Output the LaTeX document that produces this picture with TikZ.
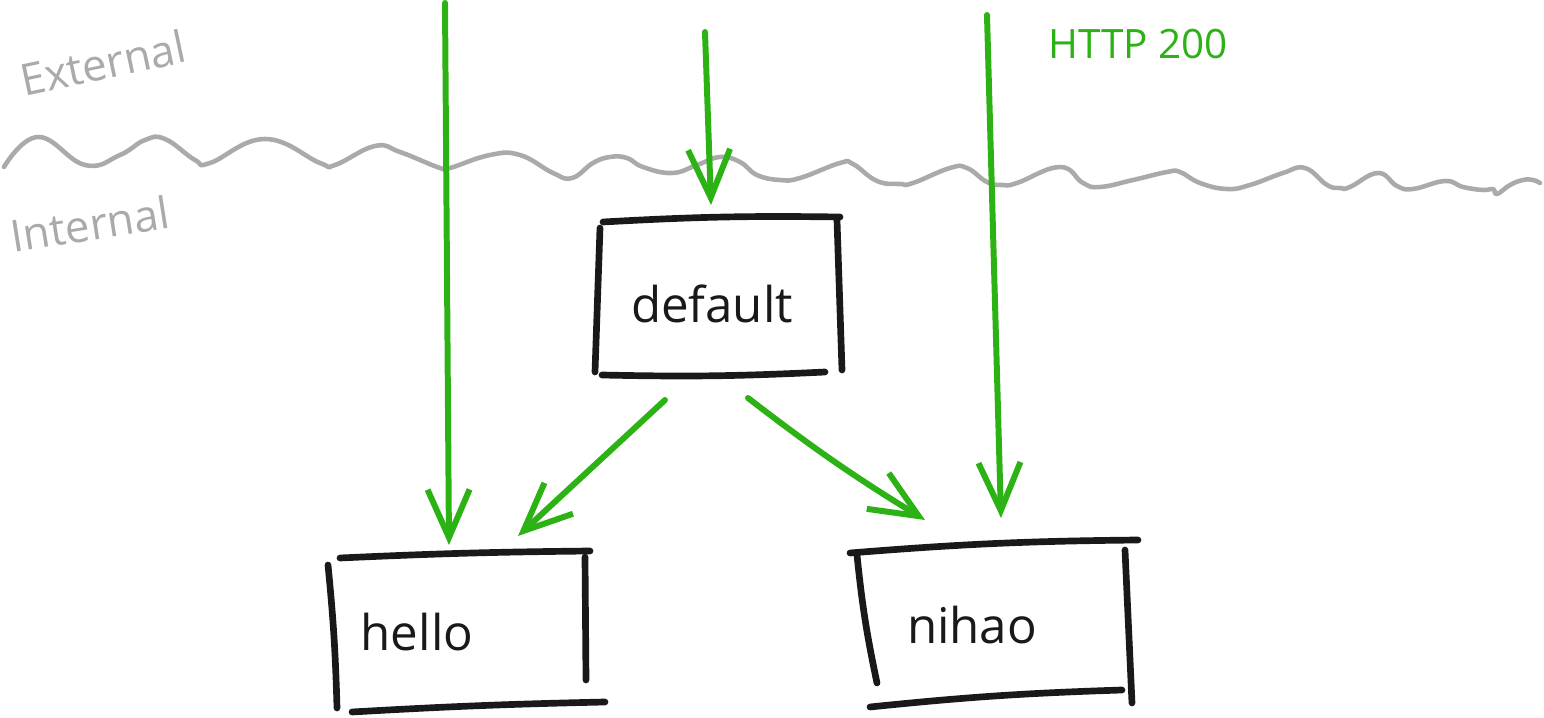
\documentclass[tikz,border=0pt]{standalone}
\usepackage{fontspec}
\setmainfont{Open Sans}
\usetikzlibrary{arrows.meta}
\definecolor{sketchgreen}{RGB}{44,178,20}
\definecolor{sketchgray}{RGB}{170,170,170}
\definecolor{ink}{RGB}{25,25,25}
\begin{document}
\begin{tikzpicture}[x=0.01cm,y=-0.01cm,
  wave/.style={draw=sketchgray,line width=1.3pt,line cap=round,line join=round},
  flow/.style={draw=sketchgreen,line width=1.7pt,line cap=round,
    -{Straight Barb[length=4.8mm,width=4.2mm,line width=1.7pt]}},
  stroke/.style={draw=ink,line width=1.9pt,line cap=round},
  zone/.style={text=sketchgray,font=\fontsize{12.5}{14}\selectfont},
  boxtext/.style={text=ink,font=\fontsize{14}{16}\selectfont,anchor=base},
  status/.style={text=sketchgreen,font=\fontsize{11.5}{14}\selectfont,anchor=base west},
]
\useasboundingbox (0,0) rectangle (1544,718);

% boundary wave
\draw[wave] plot[smooth,tension=0.75] coordinates {
 (4,167) (38,137) (85,165) (120,155) (145,140) (165,139) (195,160)
 (210,163) (265,139) (320,163) (335,165) (375,146) (400,152)
 (440,168) (450,168) (490,155) (520,155) (553,173) (572,178)
 (593,163) (610,157) (627,158) (643,167) (672,173)
 (697,165) (720,157) (740,162) (757,175) (780,180) (800,178)
 (840,163) (853,164) (877,181) (900,184) (913,183) (950,168) (967,168)
 (987,182) (1003,185) (1017,183) (1060,167) (1083,183) (1100,187)
 (1133,180) (1167,172) (1180,172) (1200,183) (1227,189) (1250,185) (1283,173)
 (1305,168) (1327,185) (1340,188) (1350,187) (1378,173)
 (1397,186) (1413,189) (1445,181) (1463,187) (1483,190) (1493,189)
 (1497,194) (1510,185) (1523,180) (1533,180) (1540,183)};

% zone labels
\node[zone,rotate=12] (external) at (103,63) {External};
\node[zone,rotate=9] (internal) at (90,224) {Internal};
\node[status] (http) at (1036,58) {HTTP 200};

% boxes (sketched strokes)
\draw[stroke] (603,222) to[bend left=2] (840,217);
\draw[stroke] (600,228) -- (595,372);
\draw[stroke] (837,220) -- (842,370);
\draw[stroke] (602,375) to[bend right=2] (825,372);
\node[boxtext] (default) at (712,322) {default};

\draw[stroke] (340,558) to[bend left=1] (590,551);
\draw[stroke] (328,565) to[bend left=2] (337,708);
\draw[stroke] (585,557) -- (586,680);
\draw[stroke] (352,712) to[bend left=1] (605,702);
\node[boxtext] (hello) at (417,650) {hello};

\draw[stroke] (850,553) to[bend left=2] (1138,540);
\draw[stroke] (857,555) to[bend right=3] (877,683);
\draw[stroke] (1125,550) -- (1132,703);
\draw[stroke] (870,707) to[bend left=2] (1122,690);
\node[boxtext] (nihao) at (972,643) {nihao};

% connector end points
\coordinate (inA) at (445,3);
\coordinate (tipA) at (449,545);
\coordinate (inB) at (705,32);
\coordinate (tipB) at (711,205);
\coordinate (inC) at (987,15);
\coordinate (tipC) at (1001,518);
\coordinate (outL) at (665,400);
\coordinate (tipL) at (518,536);
\coordinate (outR) at (748,398);
\coordinate (tipR) at (925,520);

\draw[flow] (inA) -- (tipA);
\draw[flow] (inB) -- (tipB);
\draw[flow] (inC) -- (tipC);
\draw[flow] (outL) -- (tipL);
\draw[flow] (outR) to[bend right=3] (tipR);
\end{tikzpicture}
\end{document}
